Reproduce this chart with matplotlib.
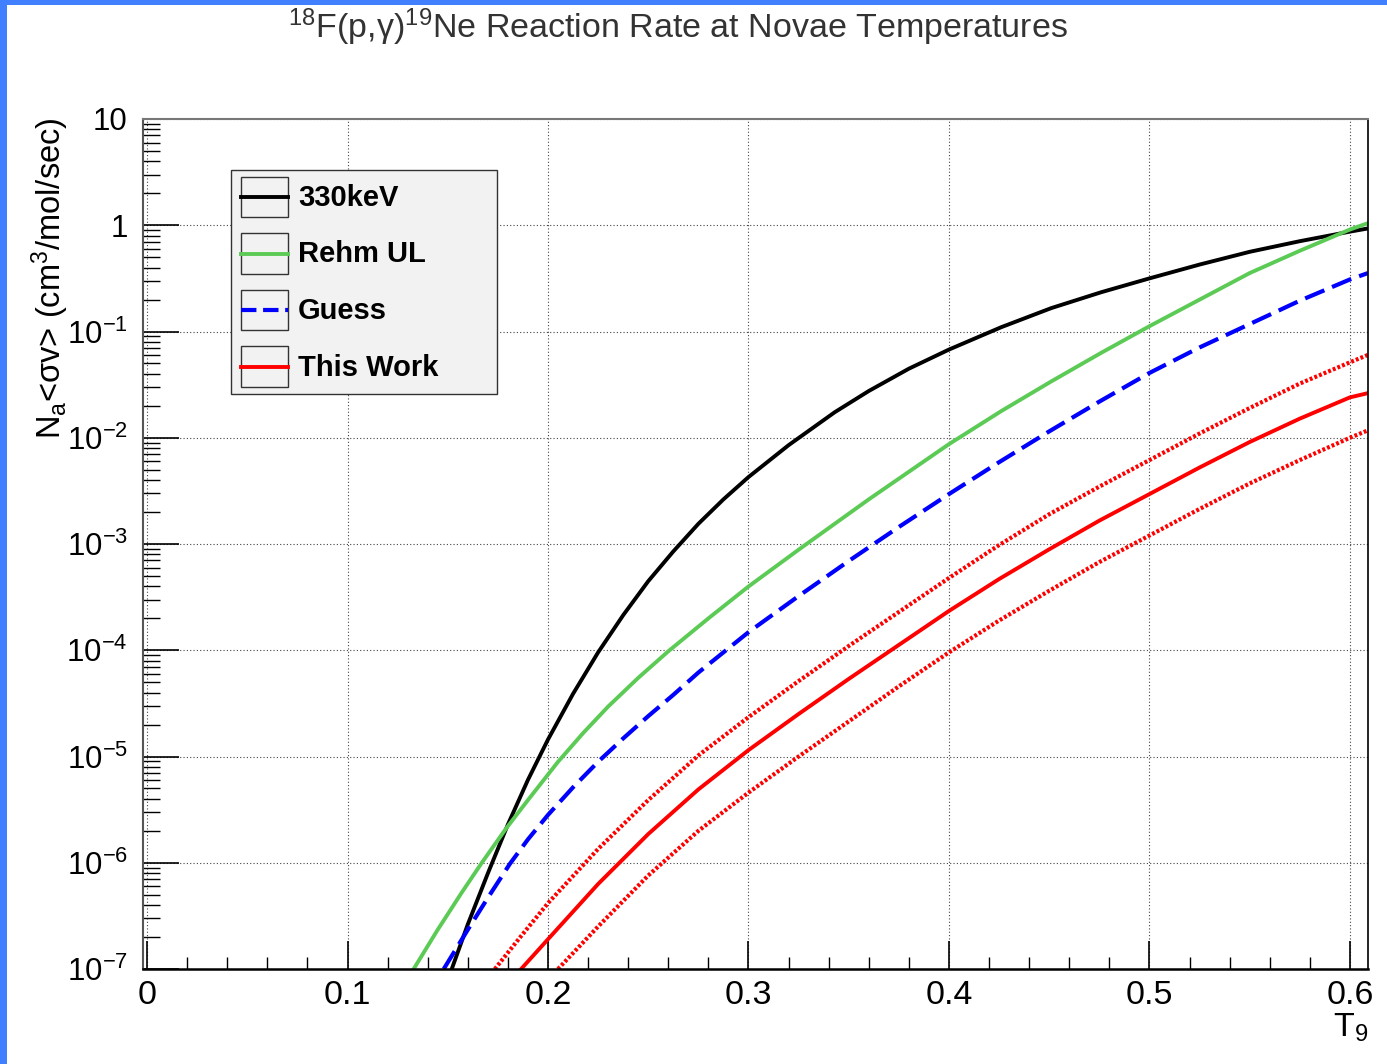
import numpy as np
import matplotlib
matplotlib.use("Agg")
import matplotlib.pyplot as plt
from matplotlib.patches import Rectangle
from matplotlib.lines import Line2D
from matplotlib.ticker import FixedLocator, MultipleLocator, LogLocator, NullFormatter

# ===========================
# Fonts
# ===========================

plt.rcParams['font.family'] = ['Liberation Sans', 'DejaVu Sans']
plt.rcParams['mathtext.fontset'] = 'custom'
plt.rcParams['mathtext.rm'] = 'Liberation Sans'
plt.rcParams['mathtext.it'] = 'Liberation Sans:italic'
plt.rcParams['mathtext.bf'] = 'Liberation Sans:bold'

# ===========================
# Data (as log10 of the rate)
# ===========================

t9_330kev = [0.152, 0.160, 0.170, 0.180, 0.190, 0.200, 0.2125, 0.225, 0.2375, 0.250,
             0.2625, 0.275, 0.2875, 0.300, 0.320, 0.343, 0.360, 0.380, 0.400, 0.426,
             0.451, 0.476, 0.500, 0.525, 0.550, 0.575, 0.600, 0.609]
log_rate_330kev = [-7.00, -6.58, -6.10, -5.64, -5.22, -4.84, -4.41, -4.02, -3.67, -3.35,
                   -3.07, -2.81, -2.58, -2.37, -2.07, -1.76, -1.56, -1.35, -1.17, -0.96,
                   -0.78, -0.63, -0.50, -0.37, -0.25, -0.15, -0.06, -0.03]

t9_rehm = [0.133, 0.145, 0.157, 0.167, 0.179, 0.190, 0.205, 0.2175, 0.230, 0.245,
           0.260, 0.280, 0.300, 0.326, 0.360, 0.400, 0.426, 0.451, 0.476, 0.500,
           0.525, 0.550, 0.575, 0.600, 0.609]
log_rate_rehm = [-7.00, -6.63, -6.28, -6.00, -5.68, -5.41, -5.05, -4.78, -4.53, -4.26,
                 -4.01, -3.70, -3.40, -3.04, -2.58, -2.06, -1.75, -1.47, -1.20, -0.95,
                 -0.70, -0.45, -0.24, -0.04, 0.02]

t9_guess = [0.148, 0.160, 0.170, 0.181, 0.190, 0.200, 0.2125, 0.225, 0.2375, 0.250,
            0.2625, 0.275, 0.2875, 0.300, 0.325, 0.350, 0.375, 0.400, 0.425, 0.450,
            0.475, 0.500, 0.525, 0.550, 0.575, 0.600, 0.609]
log_rate_guess = [-7.00, -6.63, -6.33, -6.01, -5.78, -5.55, -5.29, -5.05, -4.83, -4.62,
                  -4.42, -4.21, -4.02, -3.83, -3.49, -3.16, -2.84, -2.53, -2.23, -1.94,
                  -1.66, -1.39, -1.15, -0.93, -0.71, -0.51, -0.45]

t9_work = [0.1866, 0.200, 0.225, 0.250, 0.275, 0.300, 0.325, 0.350, 0.375, 0.400,
           0.425, 0.450, 0.475, 0.500, 0.525, 0.550, 0.575, 0.600, 0.609]
log_rate_work = [-7.00, -6.72, -6.20, -5.73, -5.31, -4.94, -4.60, -4.27, -3.95, -3.63,
                 -3.33, -3.05, -2.78, -2.53, -2.28, -2.04, -1.82, -1.62, -1.58]

t9_work_hi = [0.1735, 0.1866, 0.200, 0.225, 0.250, 0.275, 0.300, 0.325, 0.350, 0.375,
              0.400, 0.425, 0.450, 0.475, 0.500, 0.525, 0.550, 0.575, 0.600, 0.609]
log_rate_work_hi = [-7.00, -6.69, -6.38, -5.87, -5.41, -4.99, -4.63, -4.29, -3.96, -3.64,
                    -3.32, -3.01, -2.72, -2.46, -2.21, -1.96, -1.72, -1.49, -1.29, -1.22]

t9_work_lo = [0.205, 0.225, 0.250, 0.275, 0.300, 0.325, 0.350, 0.375, 0.400, 0.425,
              0.450, 0.475, 0.500, 0.525, 0.550, 0.575, 0.600, 0.609]
log_rate_work_lo = [-7.00, -6.60, -6.12, -5.70, -5.34, -5.00, -4.67, -4.34, -4.02, -3.72,
                    -3.44, -3.17, -2.92, -2.67, -2.43, -2.21, -2.00, -1.93]

x_ticks = [0.0, 0.1, 0.2, 0.3, 0.4, 0.5, 0.6]
x_tick_labels = ["0", "0.1", "0.2", "0.3", "0.4", "0.5", "0.6"]
y_ticks = [1e-7, 1e-6, 1e-5, 1e-4, 1e-3, 1e-2, 1e-1, 1, 10]
y_tick_labels = [r"$\mathregular{10^{-7}}$", r"$\mathregular{10^{-6}}$", r"$\mathregular{10^{-5}}$",
                 r"$\mathregular{10^{-4}}$", r"$\mathregular{10^{-3}}$", r"$\mathregular{10^{-2}}$",
                 r"$\mathregular{10^{-1}}$", "1", "10"]

legend_labels = ["330keV", "Rehm UL", "Guess", "This Work"]

# ===========================
# Figure
# ===========================

W, H = 1387, 1064
fig = plt.figure(figsize=(W / 100, H / 100), dpi=100)
ax = fig.add_axes([143 / W, 1 - 969 / H, 1225 / W, 850 / H])
ax.set_yscale('log')

green = '#5ccb55'
dots = (0, (0.7, 0.5))
dash = (0, (5.0, 2.0))

l_black, = ax.plot(t9_330kev, 10.0 ** np.array(log_rate_330kev), color='black', lw=2.8)
l_green, = ax.plot(t9_rehm, 10.0 ** np.array(log_rate_rehm), color=green, lw=2.8)
l_blue, = ax.plot(t9_guess, 10.0 ** np.array(log_rate_guess), color='#0000ff', lw=3.0, ls=dash)
l_red, = ax.plot(t9_work, 10.0 ** np.array(log_rate_work), color='#ff0000', lw=2.8)
ax.plot(t9_work_hi, 10.0 ** np.array(log_rate_work_hi), color='#ff0000', lw=3.0, ls=dots)
ax.plot(t9_work_lo, 10.0 ** np.array(log_rate_work_lo), color='#ff0000', lw=3.0, ls=dots)

ax.set_xlim(-0.002, 0.609)
ax.set_ylim(1e-7, 10)

ax.xaxis.set_major_locator(FixedLocator(x_ticks))
ax.set_xticklabels(x_tick_labels)
ax.xaxis.set_minor_locator(MultipleLocator(0.02))
ax.yaxis.set_major_locator(FixedLocator(y_ticks))
ax.set_yticklabels(y_tick_labels)
ax.yaxis.set_minor_locator(LogLocator(base=10, subs=np.arange(2, 10), numticks=30))
ax.yaxis.set_minor_formatter(NullFormatter())

ax.tick_params(axis='both', which='both', direction='in', top=False, right=False,
               colors='black')
ax.tick_params(axis='x', which='major', length=20, width=1.2, pad=8, labelsize=24.5)
ax.tick_params(axis='x', which='minor', length=9, width=1.0)
ax.tick_params(axis='y', which='major', length=26, width=1.2, pad=11, labelsize=22.5)
ax.tick_params(axis='y', which='minor', length=12, width=1.0)

ax.grid(True, which='major', ls=(0, (1, 2)), color='#444444', lw=0.8)

ax.spines['bottom'].set_linewidth(1.8)
ax.spines['left'].set_linewidth(1.5)
ax.spines['left'].set_color('#555555')
ax.spines['top'].set_linewidth(1.5)
ax.spines['top'].set_color('#777777')
ax.spines['right'].set_linewidth(1.2)

# Titles
fig.text(678 / W, 1 - 27 / H,
         r"$^{\mathregular{18}}$F(p,γ)$^{\mathregular{19}}$Ne Reaction Rate at Novae Temperatures",
         ha='center', va='center', fontsize=24.5, color='#333333')
fig.text(50 / W, 1 - 117 / H,
         r"N$_\mathregular{a}$<σv> (cm$^\mathregular{3}$/mol/sec)",
         rotation=90, ha='center', va='top', fontsize=23.5)
fig.text(1368 / W, 1 - 1028 / H, r"T$_\mathregular{9}$",
         ha='right', va='center', fontsize=24.5)

# Blue canvas border
border = '#4080ff'
fig.add_artist(Rectangle((0, 0), 7 / W, 1, transform=fig.transFigure,
                         facecolor=border, edgecolor='none'))
fig.add_artist(Rectangle((0, 1 - 5 / H), 1, 5 / H, transform=fig.transFigure,
                         facecolor=border, edgecolor='none'))

# ===========================
# Legend (ROOT style)
# ===========================

fig.add_artist(Rectangle((231 / W, 1 - 394 / H), 266 / W, 224 / H, transform=fig.transFigure,
                         facecolor='#f2f2f2', edgecolor='#333333', lw=1.0))
for i, (label, line) in enumerate(zip(legend_labels, [l_black, l_green, l_blue, l_red])):
    yc = 197 + 56.5 * i
    fig.add_artist(Rectangle((241 / W, 1 - (yc + 20) / H), 47 / W, 40 / H,
                             transform=fig.transFigure, facecolor='none',
                             edgecolor='#333333', lw=1.0))
    fig.add_artist(Line2D([241 / W, 288 / W], [1 - yc / H, 1 - yc / H],
                          transform=fig.transFigure, color=line.get_color(),
                          ls=line.get_linestyle(), lw=line.get_linewidth()))
    fig.text(298 / W, 1 - (yc + 1) / H, label, fontsize=21, fontweight='bold',
             ha='left', va='center')

fig.savefig("out.png", dpi=100)
